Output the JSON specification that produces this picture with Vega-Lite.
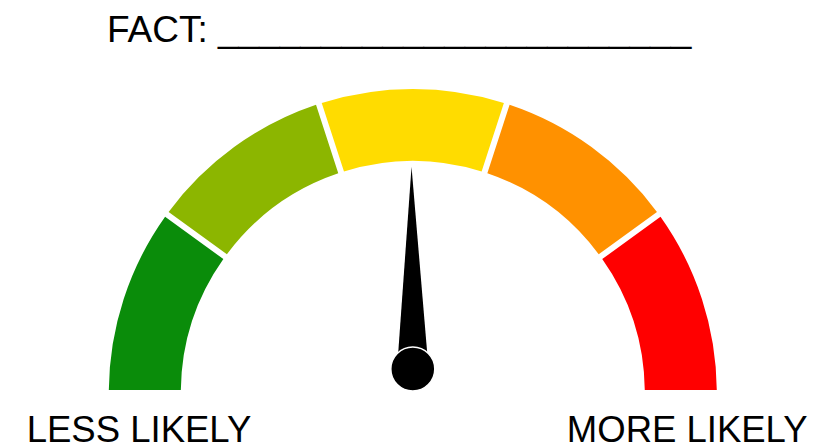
{
  "$schema": "https://vega.github.io/schema/vega-lite/v6.json",
  "width": 836,
  "height": 444,
  "autosize": {"type": "none"},
  "padding": 0,
  "background": "white",
  "config": {"view": {"stroke": null}},
  "datasets": {
    "segments": [
      {"level": "1", "start": 0, "end": 1},
      {"level": "2", "start": 1, "end": 2},
      {"level": "3", "start": 2, "end": 3},
      {"level": "4", "start": 3, "end": 4},
      {"level": "5", "start": 4, "end": 5}
    ],
    "needle": [{"reading": 2.49}],
    "labels": [
      {"label": "FACT: _______________________", "gx": -0.045, "gy": 1.1546, "size": "big"},
      {"label": "LESS LIKELY", "gx": -0.9007, "gy": -0.1602, "size": "small"},
      {"label": "MORE LIKELY", "gx": 0.9026, "gy": -0.1602, "size": "small"}
    ]
  },
  "layer": [
    {
      "data": {"name": "segments"},
      "mark": {"type": "arc", "radius": 304, "radius2": 232, "padAngle": 0.0157},
      "encoding": {
        "x": {"datum": 0, "type": "quantitative", "scale": {"domain": [-1.3579, 1.3921], "nice": false, "zero": false}, "axis": null},
        "y": {"datum": 0, "type": "quantitative", "scale": {"domain": [-0.1678, 1.2928], "nice": false, "zero": false}, "axis": null},
        "theta": {"field": "start", "type": "quantitative", "stack": null, "scale": {"domain": [0, 5], "range": [-1.5707963, 1.5707963]}},
        "theta2": {"field": "end"},
        "color": {"field": "level", "type": "nominal", "legend": null,
          "scale": {"domain": ["1", "2", "3", "4", "5"], "range": ["#0a8c0a", "#8cb600", "#ffdc00", "#ff9100", "#ff0000"]}}
      }
    },
    {
      "data": {"name": "needle"},
      "mark": {"type": "point", "shape": "M-0.078,0L0.078,0L0,-1Z", "filled": true, "color": "black", "opacity": 1, "size": 163216, "strokeWidth": 0},
      "encoding": {
        "x": {"datum": 0, "type": "quantitative", "scale": {"domain": [-1.3579, 1.3921], "nice": false, "zero": false}, "axis": null},
        "y": {"datum": 0.079, "type": "quantitative", "scale": {"domain": [-0.1678, 1.2928], "nice": false, "zero": false}, "axis": null},
        "angle": {"field": "reading", "type": "quantitative", "scale": {"domain": [0, 5], "range": [-90, 90]}}
      }
    },
    {
      "data": {"name": "needle"},
      "mark": {"type": "point", "shape": "circle", "filled": true, "fill": "black", "opacity": 1, "size": 1936, "stroke": "white", "strokeWidth": 1.5, "strokeOpacity": 1},
      "encoding": {
        "x": {"datum": 0, "type": "quantitative", "scale": {"domain": [-1.3579, 1.3921], "nice": false, "zero": false}, "axis": null},
        "y": {"datum": 0.079, "type": "quantitative", "scale": {"domain": [-0.1678, 1.2928], "nice": false, "zero": false}, "axis": null}
      }
    },
    {
      "data": {"name": "labels"},
      "mark": {"type": "text", "font": "Liberation Sans", "baseline": "alphabetic", "align": "center", "color": "black"},
      "encoding": {
        "x": {"field": "gx", "type": "quantitative", "scale": {"domain": [-1.3579, 1.3921], "nice": false, "zero": false}, "axis": null},
        "y": {"field": "gy", "type": "quantitative", "scale": {"domain": [-0.1678, 1.2928], "nice": false, "zero": false}, "axis": null},
        "text": {"field": "label"},
        "size": {"field": "size", "type": "nominal", "legend": null, "scale": {"domain": ["big", "small"], "range": [37, 36.5]}}
      }
    }
  ]
}
